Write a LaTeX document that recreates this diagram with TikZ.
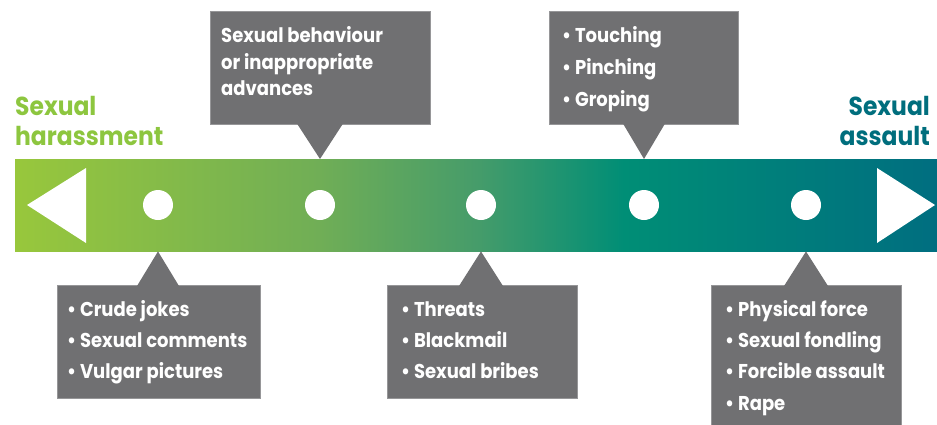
\documentclass[tikz,border=0pt]{standalone}
\usepackage{fontspec}
\setmainfont{Poppins}[FakeStretch=0.9]
\usetikzlibrary{calc}
\definecolor{boxgray}{RGB}{112,112,114}
\definecolor{boxedge}{RGB}{150,150,152}
\definecolor{hgreen}{RGB}{141,198,63}
\definecolor{ateal}{RGB}{0,110,125}
\definecolor{sA}{RGB}{152,199,60}
\definecolor{sB}{RGB}{112,174,86}
\definecolor{sC}{RGB}{70,156,106}
\definecolor{sD}{RGB}{0,142,118}
\definecolor{sE}{RGB}{0,110,128}
\pgfdeclarehorizontalshading{barshade}{100bp}{color(0bp)=(sA); color(25bp)=(sA); color(41.5bp)=(sB); color(50bp)=(sC); color(58bp)=(sD); color(75bp)=(sE); color(100bp)=(sE)}
\tikzset{
  callout/.style={rectangle, fill=boxgray, draw=boxedge, line width=0.6pt, inner sep=0pt, anchor=north west},
  dot/.style={circle, fill=white, minimum size=30pt, inner sep=0pt},
  boxtxt/.style={anchor=base west, inner sep=0pt, text=white, font=\fontsize{20}{24}\selectfont\bfseries},
  toptxt/.style={anchor=base west, inner sep=0pt, text=white, font=\fontsize{20}{24}\selectfont\bfseries},
  endlbl/.style={inner sep=0pt, font=\fontsize{26}{30}\selectfont\bfseries},
}
\begin{document}
\begin{tikzpicture}[x=1pt, y=-1pt]
\useasboundingbox (0,0) rectangle (937,424);
% bar
\node[shade, shading=barshade, minimum width=922pt, minimum height=92pt, inner sep=0pt, anchor=north west] (bar) at (15,159) {};
\fill[white] (27,205) -- (86,168) -- (86,243) -- cycle;
\fill[white] (935,205) -- (877,168) -- (877,243) -- cycle;
\node[dot] (c1) at (158,205) {};
\node[dot] (c2) at (320,205) {};
\node[dot] (c3) at (481,205) {};
\node[dot] (c4) at (644,205) {};
\node[dot] (c5) at (806,205) {};
% end labels
\node[endlbl, text=hgreen, anchor=base west] (lh1) at (15,115) {Sexual};
\node[endlbl, text=hgreen, anchor=base west] (lh2) at (15,145) {harassment};
\node[endlbl, text=ateal, anchor=base east] (la1) at (930,115) {Sexual};
\node[endlbl, text=ateal, anchor=base east] (la2) at (930,145) {assault};
% top boxes
\node[callout, minimum width=220pt, minimum height=113pt] (t1) at (210,11) {};
\fill[boxgray] (c2 |- bar.north) -- ($(c2 |- t1.south)+(-23,-1)$) -- ($(c2 |- t1.south)+(23,-1)$) -- cycle;
\node[toptxt] (t1a) at (221,42) {Sexual behaviour};
\node[toptxt] (t1b) at (221,69) {or inappropriate};
\node[toptxt] (t1c) at (221,95) {advances};
\node[callout, minimum width=189pt, minimum height=113pt] (t2) at (549,11) {};
\fill[boxgray] (c4 |- bar.north) -- ($(c4 |- t2.south)+(-21,-1)$) -- ($(c4 |- t2.south)+(21,-1)$) -- cycle;
\node[boxtxt] (t2a) at (562,42) {• Touching};
\node[boxtxt] (t2b) at (562,74) {• Pinching};
\node[boxtxt] (t2c) at (562,106) {• Groping};
% bottom boxes
\node[callout, minimum width=203pt, minimum height=113pt] (b1) at (57,285) {};
\fill[boxgray] (c1 |- bar.south) -- ($(c1 |- b1.north)+(-21,1)$) -- ($(c1 |- b1.north)+(21,1)$) -- cycle;
\node[boxtxt] (b1a) at (67,316) {• Crude jokes};
\node[boxtxt] (b1b) at (67,347) {• Sexual comments};
\node[boxtxt] (b1c) at (67,378) {• Vulgar pictures};
\node[callout, minimum width=190pt, minimum height=113pt] (b2) at (387,285) {};
\fill[boxgray] (c3 |- bar.south) -- ($(c3 |- b2.north)+(-22,1)$) -- ($(c3 |- b2.north)+(22,1)$) -- cycle;
\node[boxtxt] (b2a) at (401,316) {• Threats};
\node[boxtxt] (b2b) at (401,347) {• Blackmail};
\node[boxtxt] (b2c) at (401,378) {• Sexual bribes};
\node[callout, minimum width=190pt, minimum height=145pt] (b3) at (711,285) {};
\fill[boxgray] (c5 |- bar.south) -- ($(c5 |- b3.north)+(-22,1)$) -- ($(c5 |- b3.north)+(22,1)$) -- cycle;
\node[boxtxt] (b3a) at (725,316) {• Physical force};
\node[boxtxt] (b3b) at (725,347) {• Sexual fondling};
\node[boxtxt] (b3c) at (725,378) {• Forcible assault};
\node[boxtxt] (b3d) at (725,410) {• Rape};
\end{tikzpicture}
\end{document}
